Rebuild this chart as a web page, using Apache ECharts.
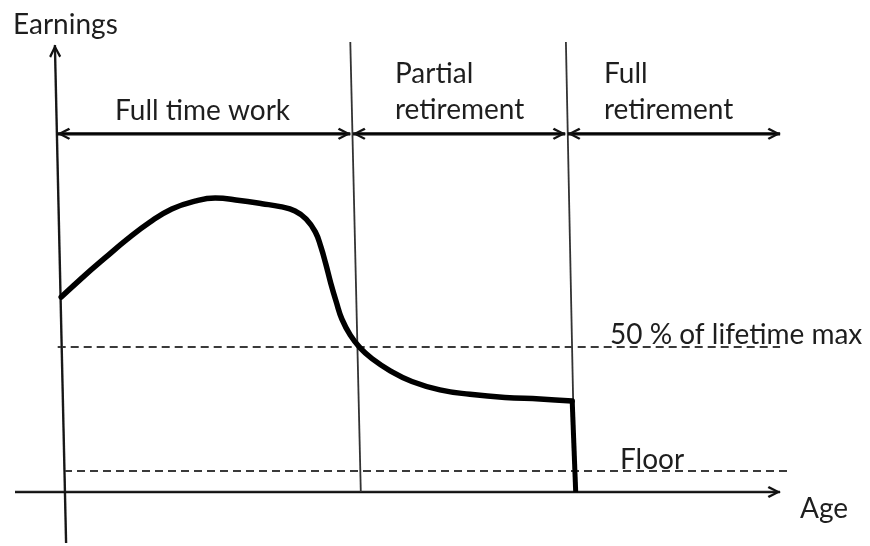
<!DOCTYPE html>
<html>
<head>
<meta charset="utf-8">
<script src="https://cdn.jsdelivr.net/npm/echarts@6/dist/echarts.min.js"></script>
<style>
  html, body { margin: 0; padding: 0; background: #fff; }
  #chart { width: 870px; height: 546px; }
</style>
</head>
<body>
<div id="chart"></div>
<script>
// ---- Data (schematic units: age units along x, earnings units along y) ----
const curveAge      = [-0.4, 2.7, 5.9, 9.0, 12.3, 15.4, 18.7, 21.6, 25.1, 28.3, 30.9, 33.0, 34.6, 35.9, 36.7, 37.4, 38.1, 38.9, 39.7, 40.9, 42.3, 44.0, 46.6, 49.7, 53.7, 58.0, 63.0, 68.0, 72.6];
const curveEarnings = [67.2, 74.1, 80.8, 87.1, 93.1, 97.6, 100.3, 101.4, 100.5, 99.4, 98.4, 96.9, 94.1, 89.7, 84.5, 78.6, 72.1, 65.5, 59.6, 54.1, 49.7, 46.0, 41.8, 38.1, 35.2, 33.7, 32.6, 32.1, 31.4];
const dropAge       = [72.6, 73.1];
const dropEarnings  = [31.4, 0];

const halfMaxLevel  = 50;    // "50 % of lifetime max"
const floorLevel    = 7.2;   // "Floor"
const phaseY        = 123.5; // level of the phase arrows
const phaseStarts   = [-0.9, 41.3, 72.0];
const phaseEnds     = [40.9, 71.6, 102.3];
const boundaryBottom = [42.4, 73.0];   // phase boundary lines at earnings 0
const boundaryTop    = [40.9, 71.7];   // same lines at top (slightly slanted)
const boundaryTopY   = 155.2;
const yAxisBottom = [0.3, -17.6];
const yAxisTop    = [-1.3, 154.1];
const xAxisStart  = [-7.0, 0];
const xAxisEnd    = [102.3, 0];
const halfMaxRange = [-0.9, 102.3];
const floorRange   = [0, 103.3];

const phaseLabels = ['Full time work', ['Partial', 'retirement'], ['Full', 'retirement']];
const axisLabels  = { y: 'Earnings', x: 'Age' };
const levelLabels = ['50 % of lifetime max', 'Floor'];

// ---- Styles ----
const FONT = '28px Lato, "Open Sans", sans-serif';
const TXT = '#1e1e1e';
const chevron = 'path://M0,10 L6,0 L12,10 L10.1,11.2 L6,4 L1.9,11.2 Z';

function segSeries(a, b, style) {
  return {
    type: 'line',
    data: [a, b],
    silent: true,
    symbol: 'none',
    showSymbol: false,
    lineStyle: style,
    z: 2
  };
}

// arrow heads: thin markLine segments along the same lines, with chevrons at their ends
function head(a, b, startSym, endSym) {
  return [
    { coord: a, symbol: startSym ? chevron : 'none', symbolSize: [12, 13], symbolOffset: [0, 6] },
    { coord: b, symbol: endSym ? chevron : 'none', symbolSize: [12, 13], symbolOffset: [0, 6] }
  ];
}

const axisStyle  = { color: '#222222', width: 2.4, type: 'solid' };
const boundStyle = { color: '#333333', width: 1.8, type: 'solid' };
const dashStyle  = { color: '#3a3a3a', width: 2, type: [8, 5] };
const arrowStyle = { color: '#000000', width: 3.2, type: 'solid' };

const lineSeries = [
  segSeries(yAxisBottom, yAxisTop, axisStyle),
  segSeries(xAxisStart, xAxisEnd, axisStyle),
  ...boundaryBottom.map((b, i) => segSeries([b, 0], [boundaryTop[i], boundaryTopY], boundStyle)),
  segSeries([halfMaxRange[0], halfMaxLevel], [halfMaxRange[1], halfMaxLevel], dashStyle),
  segSeries([floorRange[0], floorLevel], [floorRange[1], floorLevel], dashStyle),
  ...phaseStarts.map((s, i) => segSeries([s, phaseY], [phaseEnds[i], phaseY], arrowStyle))
];

const heads = [
  head(yAxisBottom, yAxisTop, false, true),
  head(xAxisStart, xAxisEnd, false, true),
  ...phaseStarts.map((s, i) => head([s, phaseY], [phaseEnds[i], phaseY], true, true))
];

function label(text, left, capTop) {
  return { type: 'text', left: left, top: capTop - 2, silent: true,
           style: { text: text, font: FONT, fill: TXT } };
}

const graphics = [
  label(axisLabels.y, 13, 13),
  label(phaseLabels[0], 115, 99),
  label(phaseLabels[1][0], 395, 62),
  label(phaseLabels[1][1], 395, 98),
  label(phaseLabels[2][0], 604, 62),
  label(phaseLabels[2][1], 604, 98),
  label(levelLabels[0], 610, 323),
  label(levelLabels[1], 620, 448),
  label(axisLabels.x, 800, 497)
];

const chart = echarts.init(document.getElementById('chart'), null, { renderer: 'canvas' });
chart.setOption({
  animation: false,
  backgroundColor: '#ffffff',
  grid: { left: 0, right: 0, top: 0, bottom: 0 },
  xAxis: { type: 'value', min: -64 / 7, max: (870 - 64) / 7, show: false },
  yAxis: { type: 'value', min: -54 / 2.9, max: 492 / 2.9, show: false },
  graphic: graphics,
  series: [
    ...lineSeries,
    {
      type: 'line',
      data: [],
      silent: true,
      markLine: {
        silent: true,
        animation: false,
        symbol: 'none',
        label: { show: false },
        emphasis: { disabled: true },
        lineStyle: { color: '#111111', width: 1, type: 'solid' },
        data: heads
      }
    },
    {
      type: 'line',
      data: curveAge.map((a, i) => [a, curveEarnings[i]]),
      smooth: 0.45,
      showSymbol: false,
      symbol: 'none',
      lineStyle: { color: '#000', width: 5.5, cap: 'round', join: 'round' },
      silent: true,
      z: 5
    },
    {
      type: 'line',
      data: dropAge.map((a, i) => [a, dropEarnings[i]]),
      showSymbol: false,
      symbol: 'none',
      lineStyle: { color: '#000', width: 5, join: 'round' },
      silent: true,
      z: 5
    }
  ]
});
</script>
</body>
</html>
